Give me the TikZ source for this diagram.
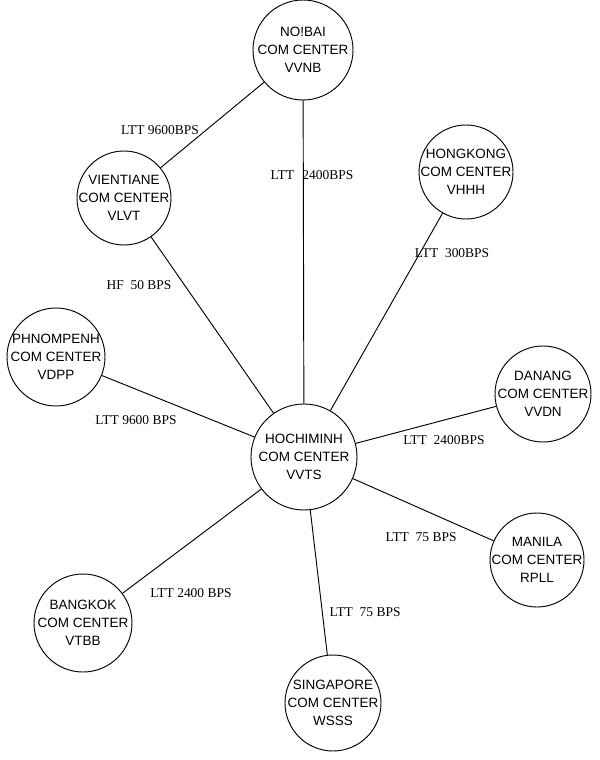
\documentclass[tikz,border=0pt]{standalone}
\usepackage{fontspec}
\setmainfont{Liberation Serif}
\setsansfont{Liberation Sans}
\usetikzlibrary{positioning}

\begin{document}
\begin{tikzpicture}[
  x=0.03cm, y=-0.03cm,
  station/.style={circle,draw,line width=0.8pt,minimum size=#1*0.03cm,inner sep=0pt},
  callsign/.style={font=\sffamily\fontsize{11.5}{15.3}\selectfont,align=center,inner sep=0pt},
  link/.style={line width=0.8pt},
  rate/.style={font=\fontsize{11.5}{13}\selectfont,inner sep=1pt}
]
  \useasboundingbox (0,0) rectangle (600,760);

  % Hub
  \node[station=106,label={[callsign]center:HOCHIMINH\\COM CENTER\\VVTS}] (vvts) at (304,457) {};

  % Outstations
  \node[station=100,label={[callsign]center:NO!BAI\\COM CENTER\\VVNB}] (vvnb) at (303,50) {};
  \node[station=94,label={[callsign]center:VIENTIANE\\COM CENTER\\VLVT}] (vlvt) at (124,198) {};
  \node[station=94,label={[callsign]center:HONGKONG\\COM CENTER\\VHHH}] (vhhh) at (466,172) {};
  \node[station=98,label={[callsign]center:PHNOMPENH\\COM CENTER\\VDPP}] (vdpp) at (56,357) {};
  \node[station=96,label={[callsign]center:DANANG\\COM CENTER\\VVDN}] (vvdn) at (543,394) {};
  \node[station=94,label={[callsign]center:MANILA\\COM CENTER\\RPLL}] (rpll) at (537,560) {};
  \node[station=98,label={[callsign]center:BANGKOK\\COM CENTER\\VTBB}] (vtbb) at (83,623) {};
  \node[station=96,label={[callsign]center:SINGAPORE\\COM CENTER\\WSSS}] (wsss) at (333,703) {};

  % Links
  \draw[link] (vvnb) -- (vlvt);
  \draw[link] (vvnb) -- (vvts);
  \draw[link] (vlvt) -- (vvts);
  \draw[link] (vhhh) -- (vvts);
  \draw[link] (vdpp) -- (vvts);
  \draw[link] (vvdn) -- (vvts);
  \draw[link] (rpll) -- (vvts);
  \draw[link] (vtbb) -- (vvts);
  \draw[link] (wsss) -- (vvts);

  % Line rates
  \node[rate] (r1) at (160,130) {LTT 9600BPS};
  \node[rate] (r2) at (312,175) {LTT\hspace{7pt}2400BPS};
  \node[rate] (r3) at (452,253) {LTT\ \ 300BPS};
  \node[rate] (r4) at (139,285) {HF\ \ 50 BPS};
  \node[rate] (r5) at (136,420) {LTT 9600 BPS};
  \node[rate] (r6) at (444,440) {LTT\ \ 2400BPS};
  \node[rate] (r7) at (421,537) {LTT\ \ 75 BPS};
  \node[rate] (r8) at (191,593) {LTT 2400 BPS};
  \node[rate] (r9) at (365,612) {LTT\ \ 75 BPS};
\end{tikzpicture}
\end{document}
